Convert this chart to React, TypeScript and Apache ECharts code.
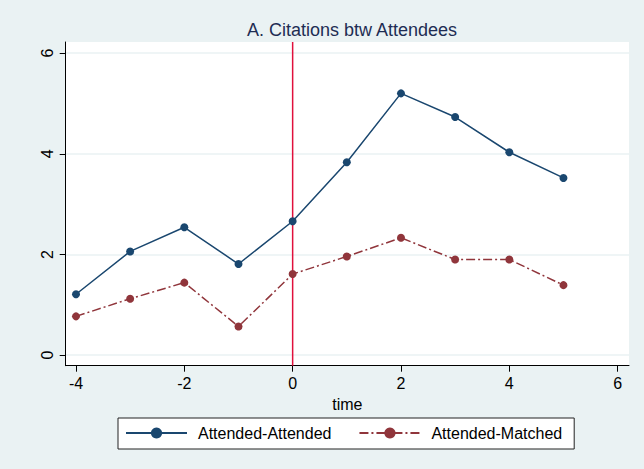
import React, { useEffect, useRef } from "react";
import * as echarts from "echarts";

const times = [-4, -3, -2, -1, 0, 1, 2, 3, 4, 5];
const attendedAttended = [1.21, 2.06, 2.54, 1.81, 2.66, 3.83, 5.2, 4.73, 4.03, 3.52];
const attendedMatched = [0.77, 1.12, 1.44, 0.57, 1.61, 1.96, 2.33, 1.9, 1.9, 1.39];
const xTicks = [-4, -2, 0, 2, 4, 6];
const yTicks = [0, 2, 4, 6];
const eventTime = 0;
const yMin = -0.21;
const yMax = 6.22;

export default function App() {
  const ref = useRef<HTMLDivElement>(null);
  useEffect(() => {
    document.body.style.margin = "0";
    const chart = echarts.init(ref.current!, null, { renderer: "svg" });
    const font = "'Liberation Sans', Arial, sans-serif";
    chart.setOption({
      animation: false,
      backgroundColor: "#eaf2f3",
      textStyle: { fontFamily: font },
      title: {
        text: "A. Citations btw Attendees",
        left: 347,
        textAlign: "center",
        top: 16,
        textStyle: { fontSize: 18, fontWeight: "normal", color: "#1e2d53", fontFamily: font },
      },
      grid: {
        left: 65.7,
        right: 15,
        top: 42,
        bottom: 103.3,
        show: true,
        backgroundColor: "#ffffff",
        borderWidth: 0,
      },
      legend: {
        left: 118,
        top: 418,
        padding: [7, 12, 8, 7],
        itemWidth: 61,
        itemHeight: 14,
        itemGap: 27,
        backgroundColor: "#ffffff",
        borderColor: "#222222",
        borderWidth: 1,
        borderRadius: 0,
        textStyle: { fontSize: 16, color: "#000", fontFamily: font, padding: [0, 0, 0, 6] },
        data: ["Attended-Attended", "Attended-Matched"],
      },
      xAxis: {
        type: "value",
        min: -4.19,
        max: 6.21,
        name: "time",
        nameLocation: "middle",
        nameGap: 20,
        nameTextStyle: { fontSize: 16, color: "#000", fontFamily: font },
        axisLine: { show: true, onZero: false, lineStyle: { color: "#000", width: 1 } },
        axisTick: { show: true, inside: false, length: 6, customValues: xTicks, lineStyle: { color: "#000" } },
        axisLabel: { customValues: xTicks, fontSize: 16, color: "#000", margin: 10, fontFamily: font },
        splitLine: { show: false },
      },
      yAxis: {
        type: "value",
        min: yMin,
        max: yMax,
        axisLine: { show: true, onZero: false, lineStyle: { color: "#000", width: 1 } },
        axisTick: { show: true, inside: false, length: 6, customValues: yTicks, lineStyle: { color: "#000" } },
        axisLabel: { customValues: yTicks, rotate: 90, fontSize: 16, color: "#000", margin: 10, fontFamily: font },
        splitLine: { show: true, lineStyle: { color: "#eaf2f3", width: 1.5 } },
      },
      series: [
        {
          name: "event",
          type: "line",
          data: [[eventTime, yMin], [eventTime, yMax]],
          symbol: "none",
          silent: true,
          z: 1,
          lineStyle: { color: "#e0103c", width: 1.5 },
          itemStyle: { color: "#e0103c" },
          emphasis: { disabled: true },
        },
        {
          name: "Attended-Attended",
          type: "line",
          data: times.map((t, i) => [t, attendedAttended[i]]),
          symbol: "circle",
          symbolSize: 8,
          z: 3,
          itemStyle: { color: "#1a476f" },
          lineStyle: { color: "#1a476f", width: 1.5 },
        },
        {
          name: "Attended-Matched",
          type: "line",
          data: times.map((t, i) => [t, attendedMatched[i]]),
          symbol: "circle",
          symbolSize: 8,
          z: 3,
          itemStyle: { color: "#90353b" },
          lineStyle: { color: "#90353b", width: 1.5, type: [9, 3, 2, 3] },
        },
      ],
    });
    return () => chart.dispose();
  }, []);
  return <div ref={ref} style={{ width: 644, height: 469 }} />;
}
